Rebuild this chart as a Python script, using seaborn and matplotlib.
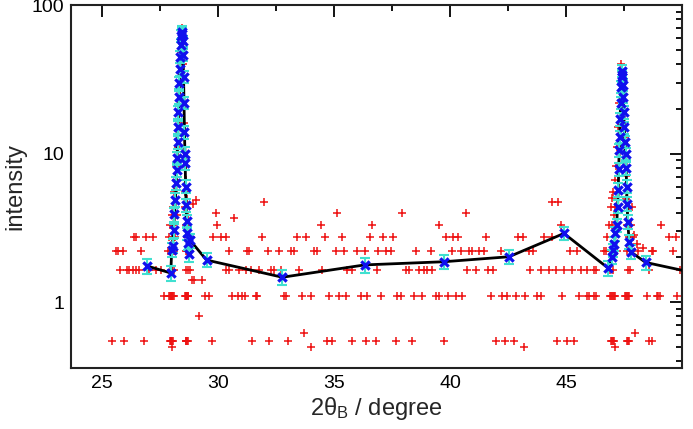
import numpy as np
import pandas as pd
import matplotlib
matplotlib.use("Agg")
import matplotlib.pyplot as plt
import seaborn as sns
from matplotlib.ticker import FixedLocator, MultipleLocator, LogLocator, NullFormatter

# ---------------- data ----------------
# averaged points (blue x, black line, cyan error bars)
avg_x = [26.94, 27.96, 28.00, 28.04, 28.08, 28.12, 28.16, 28.19, 28.21, 28.23,
         28.25, 28.27, 28.29, 28.31, 28.33, 28.35, 28.37, 28.39, 28.41, 28.43,
         28.45, 28.47, 28.49, 28.51, 28.53, 28.55, 28.57, 28.58, 28.60, 28.62,
         28.64, 28.66, 28.70, 28.74, 28.80, 29.50, 32.77, 36.32, 39.74, 42.54,
         44.91, 46.82, 46.97, 47.03, 47.08, 47.13, 47.18, 47.22, 47.25, 47.27,
         47.29, 47.31, 47.33, 47.35, 47.37, 47.39, 47.41, 47.43, 47.45, 47.47,
         47.49, 47.51, 47.54, 47.57, 47.59, 47.61, 47.63, 47.66, 47.72, 47.79,
         48.43, 50.30]
avg_y = [1.75, 1.57, 2.25, 2.4, 3.05, 3.9, 4.9, 6.3, 7.8, 9.3,
         12, 15, 19, 24, 30, 37, 45, 54, 62, 66,
         64, 57, 46, 33, 22, 14, 10, 8.6, 6.0, 4.5,
         3.5, 2.9, 2.5, 2.1, 2.6, 1.92, 1.47, 1.78, 1.87, 2.02,
         2.90, 1.69, 2.02, 2.24, 2.48, 2.9, 3.3, 4.4, 5.7, 7.9,
         10.6, 13, 17, 22, 28, 33, 36, 34, 29, 24,
         19, 15, 12, 10, 8.0, 6.0, 4.6, 3.47, 2.55, 2.18,
         1.85, 1.60]
avg_err = [0.2, 0.18, 0.25, 0.27, 0.33, 0.42, 0.5, 0.65, 0.8, 0.95,
           1.2, 1.5, 1.9, 2.3, 2.9, 3.5, 4.2, 5.0, 5.6, 6.0,
           5.8, 5.2, 4.3, 3.1, 2.1, 1.4, 1.0, 0.85, 0.6, 0.46,
           0.36, 0.3, 0.27, 0.23, 0.28, 0.21, 0.17, 0.2, 0.21, 0.22,
           0.3, 0.19, 0.22, 0.24, 0.27, 0.31, 0.35, 0.45, 0.6, 0.8,
           1.05, 1.3, 1.7, 2.1, 2.6, 3.0, 3.3, 3.1, 2.7, 2.2,
           1.8, 1.4, 1.15, 0.95, 0.78, 0.6, 0.47, 0.36, 0.27, 0.23,
           0.2, 0.18]

# individual measurements (red +), grouped by count level
lvl_050_x = [28.00, 33.99, 43.18, 47.10]
lvl_055_x = [25.42, 25.95, 26.81, 27.92, 27.95, 27.98, 28.02, 28.05, 28.60, 28.63,
             28.66, 28.70, 29.74, 31.48, 32.20, 33.00, 34.71, 34.93, 35.78, 36.37,
             36.81, 37.66, 38.38, 39.74, 41.97, 42.37, 42.76, 44.60, 45.06, 45.34,
             46.95, 46.98, 47.02, 47.05, 47.62, 47.66, 47.70, 48.58, 48.71]
lvl_062_x = [33.71, 47.97]
lvl_080_x = [29.18]
lvl_110_x = [27.67, 27.88, 27.92, 27.95, 27.98, 28.00, 28.02, 28.05, 28.08, 28.58,
             28.60, 28.63, 28.66, 28.69, 28.72, 29.44, 29.61, 30.62, 30.84, 31.05,
             31.16, 31.62, 31.69, 32.84, 32.92, 33.61, 33.99, 34.78, 35.22, 35.50,
             36.15, 36.44, 37.01, 37.73, 37.87, 38.45, 38.81, 39.38, 39.53, 39.93,
             40.25, 40.53, 41.75, 42.25, 42.47, 42.86, 43.23, 43.76, 43.91, 44.84,
             45.56, 45.92, 46.00, 46.20, 46.30, 46.90, 46.95, 47.00, 47.03, 47.06,
             47.10, 47.55, 47.60, 47.63, 47.67, 47.70, 48.50, 48.90, 48.95, 49.05,
             49.80]
lvl_140_x = [28.87, 28.97, 29.30]
lvl_165_x = [25.78, 26.09, 26.16, 26.31, 26.45, 26.60, 27.03, 27.31, 27.53, 30.33,
             30.47, 30.91, 31.19, 31.41, 31.77, 32.27, 32.41, 32.70, 33.49, 34.50,
             35.57, 35.78, 36.87, 38.09, 38.23, 38.66, 38.88, 39.02, 39.24, 40.75,
             41.13, 41.65, 41.87, 43.45, 43.91, 44.27, 44.55, 44.91, 45.27, 45.63,
             45.92, 46.20, 46.30, 48.58, 49.90]
lvl_220_x = [25.59, 25.70, 25.88, 26.67, 30.47, 31.26, 31.34, 32.13, 32.63, 33.13,
             33.28, 34.14, 34.28, 35.07, 35.43, 36.00, 36.34, 36.91, 37.23, 37.45,
             38.52, 39.17, 40.10, 40.46, 40.82, 40.96, 41.25, 41.47, 42.19, 43.40,
             43.58, 45.17, 45.49, 46.64, 48.72, 48.75, 49.60]
lvl_275_x = [26.38, 26.45, 26.90, 27.20, 29.80, 30.12, 30.33, 31.91, 33.42, 33.78,
             34.61, 35.33, 36.54, 37.11, 37.54, 39.84, 40.13, 40.34, 41.54, 42.94,
             43.15, 44.05, 44.38, 49.44, 49.72]
lvl_330_x = [29.97, 34.43, 36.65, 39.53, 44.77, 49.08]
lvl_370_x = [30.69]
lvl_400_x = [29.93, 35.14, 37.94, 40.68]
lvl_470_x = [31.98, 44.41, 44.67]

# individual measurements around the two peaks
peak_x = [27.85, 27.90, 27.93, 27.95, 27.98, 28.00, 28.02, 28.03, 28.05, 28.07,
          28.08, 28.10, 28.12, 28.14, 28.15, 28.17, 28.20, 28.22, 28.25, 28.30,
          28.35, 28.40, 28.45, 28.50, 28.55, 28.56, 28.58, 28.60, 28.62, 28.63,
          28.65, 28.67, 28.70, 28.72, 28.75, 28.78, 28.80, 28.85, 28.90, 28.62,
          28.60, 28.68, 29.04,
          46.72, 46.78, 46.85, 46.90, 46.92, 46.95, 46.97, 47.00, 47.02, 47.04,
          47.06, 47.08, 47.10, 47.12, 47.15, 47.18, 47.20, 47.25, 47.30, 47.38,
          47.45, 47.50, 47.55, 47.58, 47.60, 47.62, 47.64, 47.66, 47.68, 47.70,
          47.72, 47.75, 47.78, 47.82, 47.86, 47.90, 47.93, 48.07, 48.10, 48.30]
peak_y = [2.2, 2.75, 3.3, 1.65, 2.2, 3.85, 1.65, 2.75, 4.4, 3.3,
          1.65, 2.2, 5.5, 4.4, 2.75, 6.6, 8.2, 3.85, 11, 17,
          27, 48, 70, 40, 16, 5.5, 4.4, 2.2, 3.3, 1.65,
          2.75, 2.2, 3.85, 1.65, 2.75, 2.2, 1.65, 2.75, 4.6, 6.6,
          8.2, 4.95, 4.86,
          2.2, 2.75, 3.3, 1.65, 4.4, 2.2, 5.0, 3.3, 5.5, 1.65,
          3.85, 2.75, 6.6, 4.4, 8.2, 2.2, 11, 15, 22, 40,
          30, 20, 13, 7.1, 4.95, 3.3, 2.2, 1.65, 3.85, 2.75,
          4.4, 1.65, 3.3, 2.2, 4.4, 2.75, 2.83, 2.48, 2.2, 2.3]

level_groups = [(0.50, lvl_050_x), (0.55, lvl_055_x), (0.62, lvl_062_x), (0.80, lvl_080_x),
                (1.10, lvl_110_x), (1.40, lvl_140_x), (1.65, lvl_165_x), (2.20, lvl_220_x),
                (2.75, lvl_275_x), (3.30, lvl_330_x), (3.70, lvl_370_x), (4.00, lvl_400_x),
                (4.70, lvl_470_x)]

rx, ry = list(peak_x), list(peak_y)
for lv, xs in level_groups:
    rx += xs
    ry += [lv] * len(xs)
red_df = pd.DataFrame({"x": rx, "y": ry})
avg_df = pd.DataFrame({"x": avg_x, "y": avg_y, "err": avg_err})

# ---------------- plot ----------------
sns.set_theme(style="white")
plt.rcParams['font.family'] = ['Liberation Sans', 'DejaVu Sans']
plt.rcParams['mathtext.fontset'] = 'custom'
plt.rcParams['mathtext.rm'] = 'Liberation Sans'
plt.rcParams['mathtext.it'] = 'Liberation Sans:italic'

fig = plt.figure(figsize=(6.93, 4.29), dpi=100)
ax = fig.add_axes([0.1025, 0.1422, 0.8817, 0.846])

sns.scatterplot(data=red_df, x="x", y="y", marker="+", color="#ee1111", s=36,
                linewidth=1.1, ax=ax, zorder=2, legend=False)
sns.lineplot(data=avg_df, x="x", y="y", color="black", linewidth=2.0,
             estimator=None, sort=True, ax=ax, zorder=3, legend=False)
ax.errorbar(avg_df["x"], avg_df["y"], yerr=avg_df["err"], fmt="none",
            ecolor="#40e0d0", elinewidth=1.5, capsize=3.8, capthick=1.5, zorder=4)
sns.scatterplot(data=avg_df, x="x", y="y", marker="x", color="#1010ee", s=36,
                linewidth=2.3, ax=ax, zorder=5, legend=False)

ax.set_yscale("log")
ax.set_xlim(23.66, 50.0)
ax.set_ylim(0.36, 100)

ax.xaxis.set_major_locator(FixedLocator([25, 30, 35, 40, 45]))
ax.xaxis.set_minor_locator(MultipleLocator(2.5))
ax.set_xticklabels(["25", "30", "35", "40", "45"])
ax.yaxis.set_major_locator(FixedLocator([1, 10, 100]))
ax.set_yticklabels(["1", "10", "100"])
ax.yaxis.set_minor_locator(LogLocator(base=10, subs=np.arange(2, 10)))
ax.yaxis.set_minor_formatter(NullFormatter())

ax.tick_params(which="both", direction="in", top=True, right=True,
               labelsize=14, colors="black", width=1.3)
ax.tick_params(which="major", length=8.5, pad=5)
ax.tick_params(which="minor", length=4.5)
for sp in ax.spines.values():
    sp.set_linewidth(1.5)
    sp.set_color("#222222")

ax.set_xlabel("2θ$_\\mathrm{B}$ / degree", fontsize=17, labelpad=2)
ax.set_ylabel("intensity", fontsize=17, labelpad=4)

fig.savefig("out.png", dpi=100)
